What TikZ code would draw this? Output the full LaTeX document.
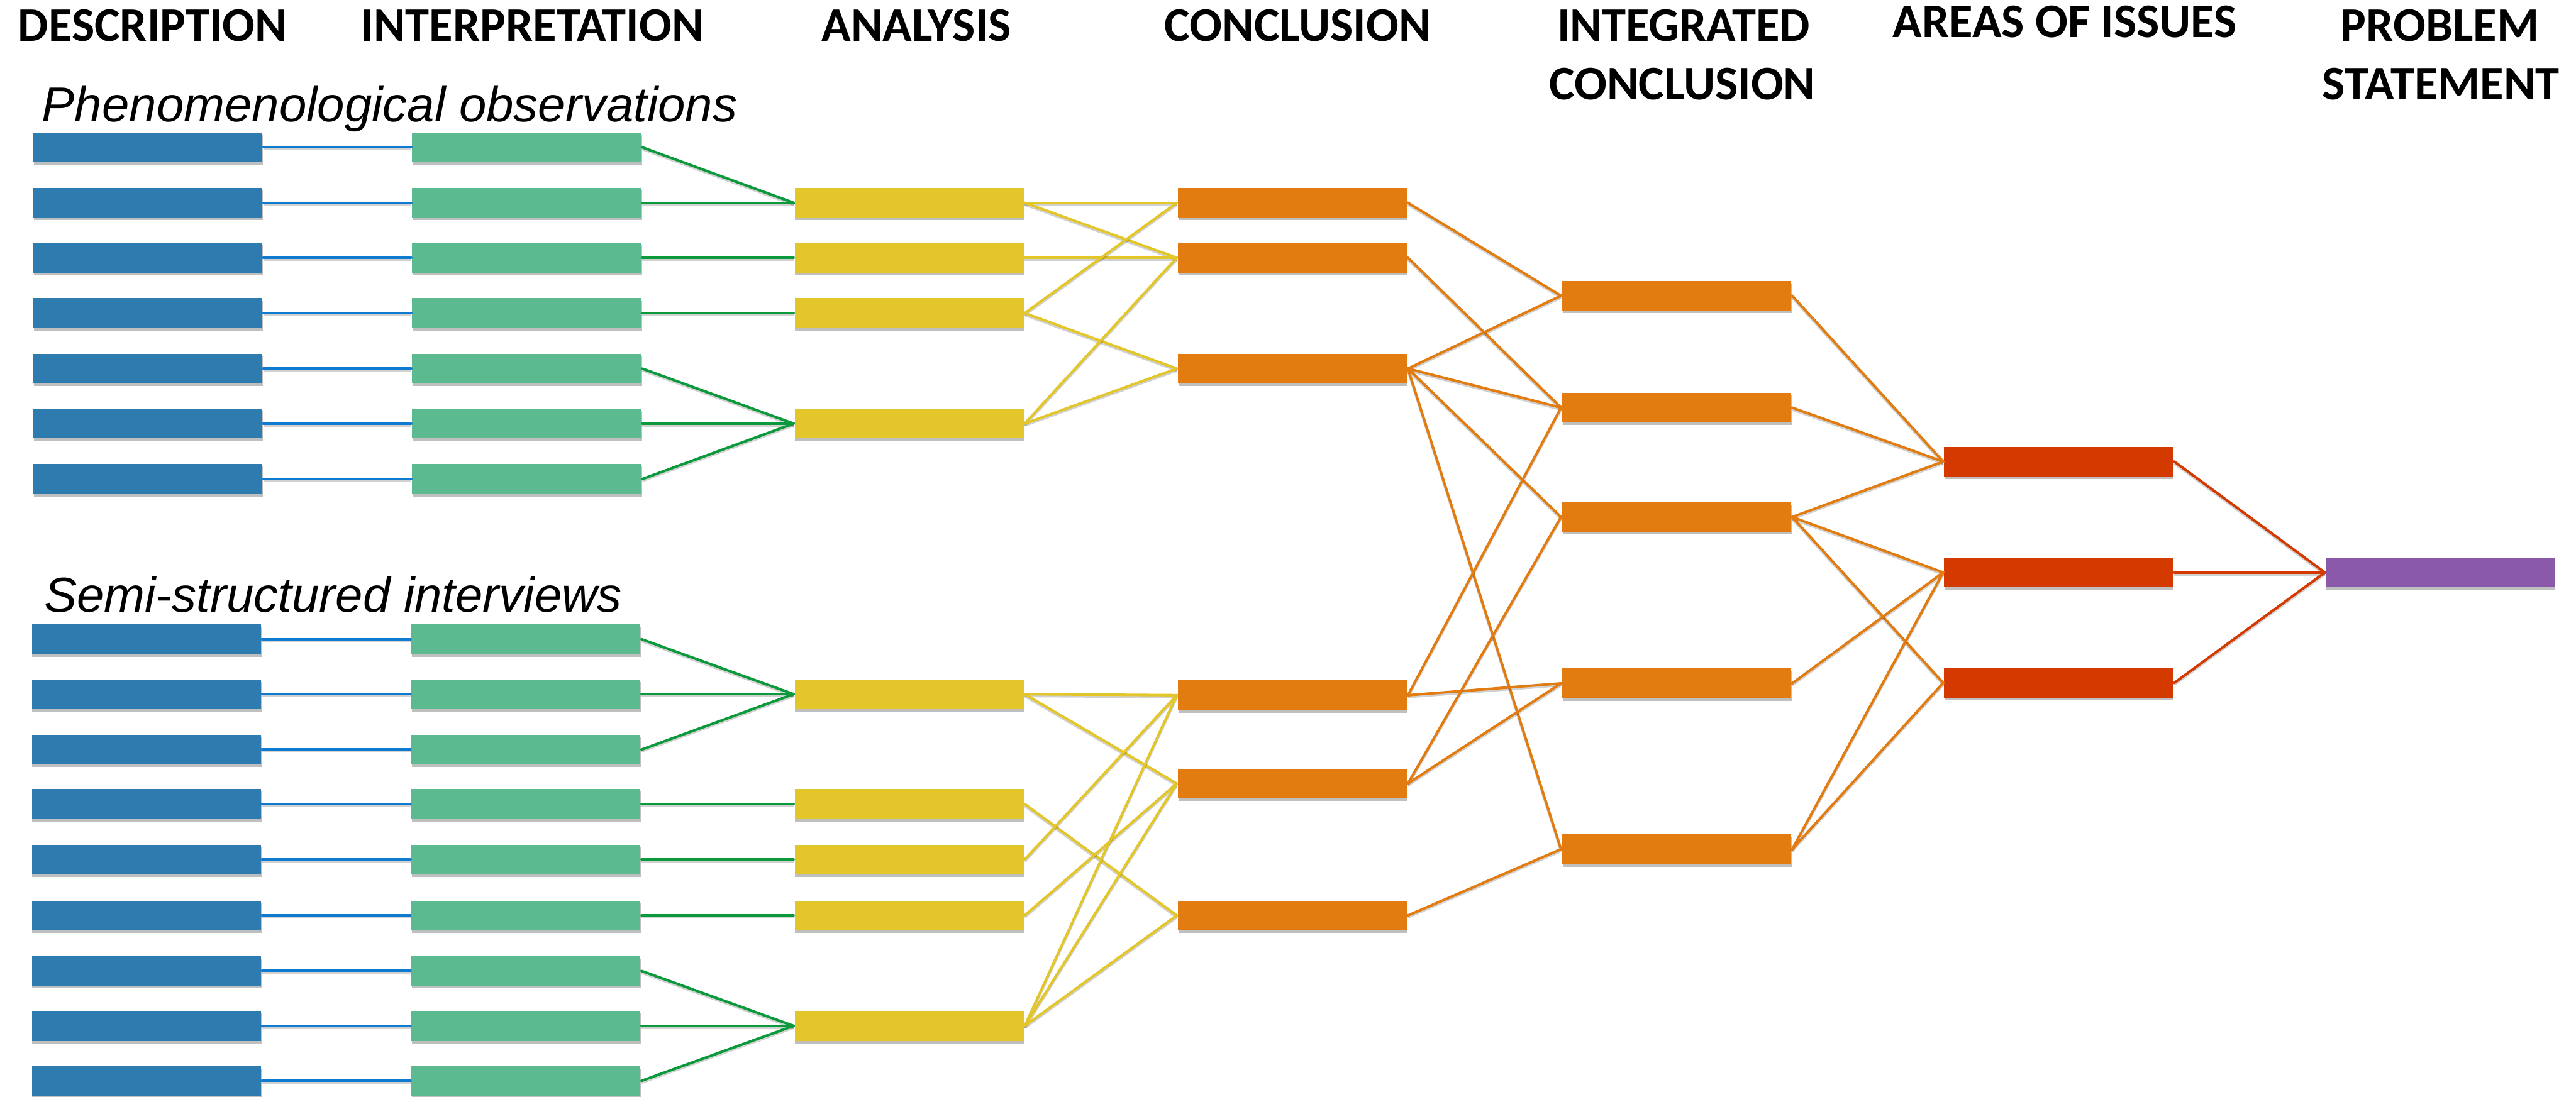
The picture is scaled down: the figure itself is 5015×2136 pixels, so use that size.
\documentclass[tikz,border=0pt]{standalone}
\usepackage{fontspec}
\newfontfamily\hdrfont{Carlito}
\newfontfamily\subfont{Liberation Sans}
\usetikzlibrary{shadows}
\definecolor{cblue}{HTML}{2E7BB0}
\definecolor{lblue}{HTML}{0E7AD0}
\definecolor{cgreen}{HTML}{5BBA8F}
\definecolor{lgreen}{HTML}{0A9A3C}
\definecolor{cyellow}{HTML}{E2C62A}
\definecolor{corange}{HTML}{E27C10}
\definecolor{cred}{HTML}{D43A00}
\definecolor{cpurple}{HTML}{8B59AA}
\begin{document}
\begin{tikzpicture}[x=0.1pt,y=-0.1pt,
  box/.style={rectangle, inner sep=0pt, minimum width=44.6pt, minimum height=5.8pt, draw=none,
    drop shadow={shadow xshift=0.1pt, shadow yshift=-0.5pt, opacity=0.25, fill=black}},
  dbox/.style={box, fill=cblue},
  ibox/.style={box, fill=cgreen},
  abox/.style={box, fill=cyellow},
  cbox/.style={box, fill=corange},
  rbox/.style={box, fill=cred},
  pbox/.style={box, fill=cpurple},
  ln/.style={line width=0.5pt, line cap=round,
    preaction={draw=black, opacity=0.18, line width=0.5pt, transform canvas={yshift=-0.35pt}}},
  bl/.style={ln, draw=lblue},
  gl/.style={ln, draw=lgreen},
  yl/.style={ln, draw=cyellow},
  ol/.style={ln, draw=corange},
  rl/.style={ln, draw=cred},
  hdr/.style={font=\hdrfont\bfseries\fontsize{9.4pt}{11.4pt}\selectfont, inner sep=0pt, anchor=base},
  sub/.style={font=\subfont\itshape\fontsize{9.55pt}{11pt}\selectfont, inner sep=0pt, anchor=base west}
]
\fill[white] (0,0) rectangle (5015,2136);
\useasboundingbox (0,0) rectangle (5015,2136);

% headers
\node[hdr] (h1) at (297,80) {DESCRIPTION};
\node[hdr] (h2) at (1036,80) {INTERPRETATION};
\node[hdr] (h3) at (1784,80) {ANALYSIS};
\node[hdr] (h4) at (2526,80) {CONCLUSION};
\node[hdr] (h5a) at (3278,80) {INTEGRATED};
\node[hdr] (h5b) at (3275,194) {CONCLUSION};
\node[hdr] (h6) at (4020,73) {AREAS OF ISSUES};
\node[hdr] (h7a) at (4750,80) {PROBLEM};
\node[hdr] (h7b) at (4752,194) {STATEMENT};

\node[sub] (s1) at (80,237) {Phenomenological observations};
\node[sub] (s2) at (84,1192) {Semi-structured interviews};

% description and interpretation boxes
\foreach \i/\yy in {1/287,2/395,3/502,4/610,5/718,6/825,7/933}{
  \node[dbox] (da\i) at (287.5,\yy) {};
  \node[ibox] (ia\i) at (1025.5,\yy) {};
}
\foreach \i/\yy in {1/1245,2/1352,3/1460,4/1566,5/1674,6/1783,7/1891,8/1998,9/2105}{
  \node[dbox] (db\i) at (285,\yy) {};
  \node[ibox] (ib\i) at (1024,\yy) {};
}
% analysis
\foreach \i/\yy in {1/395,2/502,3/610,4/825,5/1352,6/1566,7/1674,8/1783,9/1998}{
  \node[abox] (y\i) at (1770,\yy) {};
}
% conclusion
\foreach \i/\yy in {1/395,2/502,3/718,4/1354,5/1526,6/1783}{
  \node[cbox] (c\i) at (2516,\yy) {};
}
% integrated conclusion
\foreach \i/\yy in {1/576,2/794,3/1007,4/1331,5/1654}{
  \node[cbox] (ic\i) at (3264,\yy) {};
}
% areas of issues
\foreach \i/\yy in {1/899,2/1115,3/1330}{
  \node[rbox] (r\i) at (4008,\yy) {};
}
\node[pbox] (p) at (4751,1115) {};

% connectors
\foreach \i in {1,...,7}{ \draw[bl] (da\i.east) -- (ia\i.west); }
\foreach \i in {1,...,9}{ \draw[bl] (db\i.east) -- (ib\i.west); }

\foreach \a/\b in {ia1/y1,ia2/y1,ia3/y2,ia4/y3,ia5/y4,ia6/y4,ia7/y4,
                   ib1/y5,ib2/y5,ib3/y5,ib4/y6,ib5/y7,ib6/y8,ib7/y9,ib8/y9,ib9/y9}{
  \draw[gl] (\a.east) -- (\b.west);
}
\foreach \a/\b in {y1/c1,y1/c2,y2/c2,y3/c1,y3/c3,y4/c2,y4/c3,
                   y5/c4,y5/c5,y6/c6,y7/c4,y8/c5,y9/c4,y9/c5,y9/c6}{
  \draw[yl] (\a.east) -- (\b.west);
}
\foreach \a/\b in {c1/ic1,c2/ic2,c3/ic1,c3/ic2,c3/ic3,c3/ic5,c4/ic2,c4/ic4,c5/ic3,c5/ic4,c6/ic5,
                   ic1/r1,ic2/r1,ic3/r1,ic3/r2,ic3/r3,ic4/r2,ic5/r2,ic5/r3}{
  \draw[ol] (\a.east) -- (\b.west);
}
\foreach \a in {r1,r2,r3}{ \draw[rl] (\a.east) -- (p.west); }
\end{tikzpicture}
\end{document}
